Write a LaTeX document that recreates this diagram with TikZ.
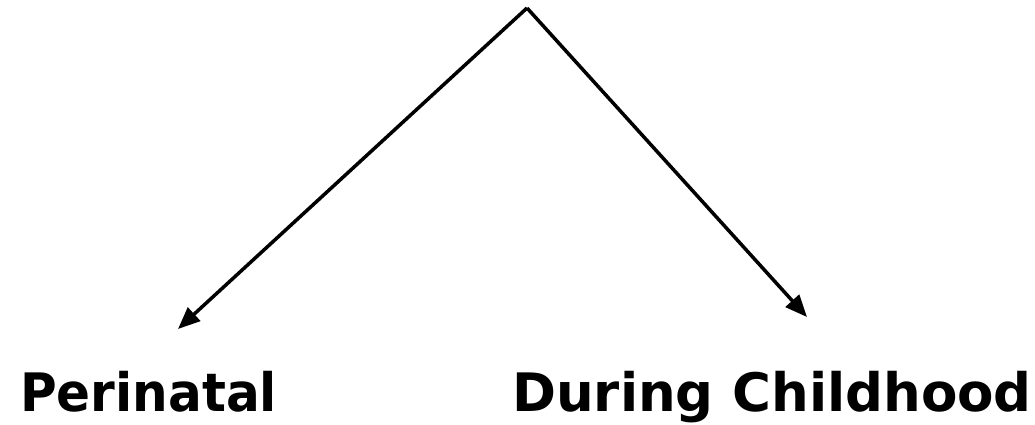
\documentclass[tikz,border=0pt]{standalone}
\usepackage{fontspec}
\setmainfont{DejaVu Sans}
\usetikzlibrary{arrows.meta}

\begin{document}
\begin{tikzpicture}[x=1pt, y=-1pt,
    branch/.style={line width=3.5pt, -{Triangle[length=22pt, width=18pt]}},
    label/.style={anchor=base west, inner sep=0pt, font=\fontsize{53}{62}\selectfont\bfseries}]
    \useasboundingbox (0,0) rectangle (1035,425);

    \coordinate (root) at (527,8);
    \coordinate (leftend) at (178,329);
    \coordinate (rightend) at (807,317);

    \draw[branch] (root) -- (leftend);
    \draw[branch] (root) -- (rightend);

    \node[label, xscale=0.945] (peri) at (20,411) {Perinatal};
    \node[label] (child) at (512,411) {During Childhood};
\end{tikzpicture}
\end{document}
